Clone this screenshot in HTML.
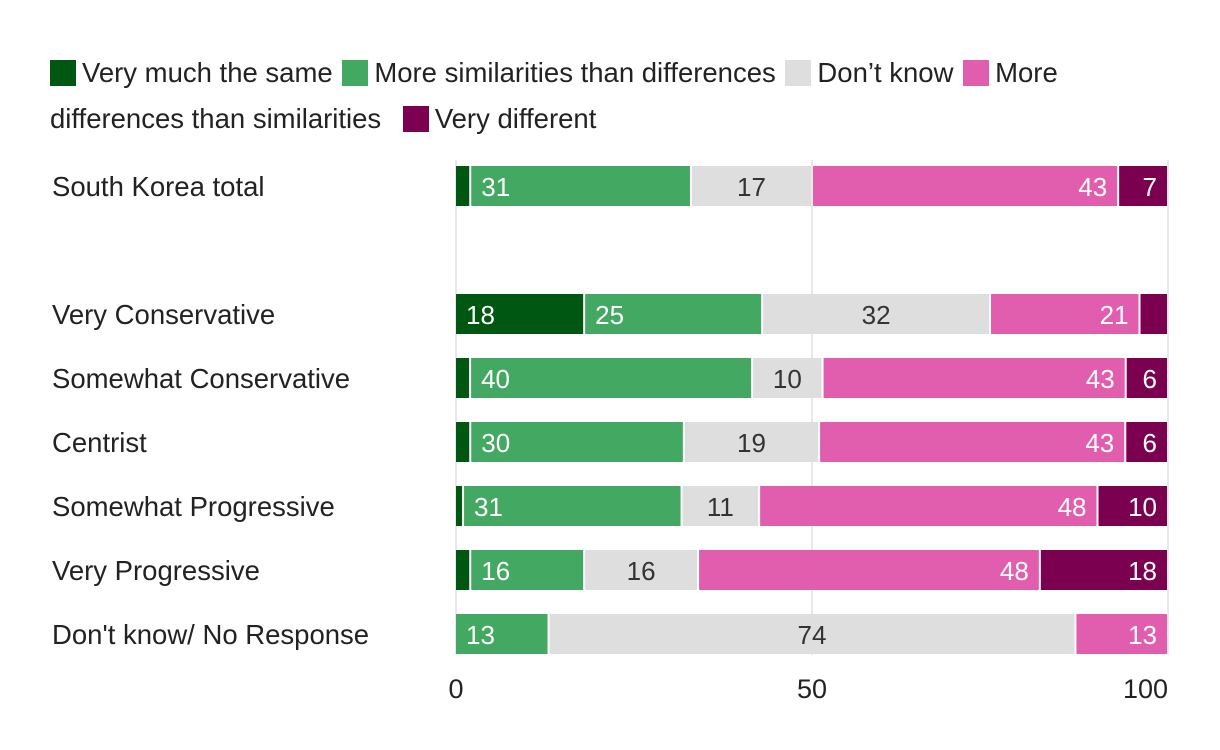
<!DOCTYPE html>
<html><head><meta charset="utf-8"><style>
body{margin:0;background:#fff;font-family:"Liberation Sans",sans-serif;}
#wrap{position:relative;width:1220px;height:750px;overflow:hidden}
.leg{position:absolute;left:50px;top:50px;width:1100px;font-size:27.5px;line-height:46px;color:#222}
.sw{display:inline-block;width:26px;height:26px;vertical-align:-4px;margin-right:6px}
</style></head><body>
<div id="wrap">
<div class="leg">
<span><span class="sw" style="background:#005712"></span>Very much the same</span>
<span><span class="sw" style="background:#43a862;margin-left:2px"></span>More similarities than differences</span>
<span><span class="sw" style="background:#dedede;margin-left:2px"></span>Don’t know</span>
<span><span class="sw" style="background:#e15eae;margin-left:2px"></span>More differences than similarities</span>
<span><span class="sw" style="background:#7b0050;margin-left:14px"></span>Very different</span>
</div>
<svg id="svg" width="1220" height="750" style="position:absolute;left:0;top:0"></svg>
</div>
<script>
const categories=["South Korea total","Very Conservative","Somewhat Conservative","Centrist","Somewhat Progressive","Very Progressive","Don't know/ No Response"];
const rowY=[186,314,378,442,506,570,634];
const veryMuchSame=[2,18,2,2,1,2,0];
const moreSimilar=[31,25,40,30,31,16,13];
const dontKnow=[17,32,10,19,11,16,74];
const moreDifferent=[43,21,43,43,48,48,13];
const veryDifferent=[7,4,6,6,10,18,0];
const ticks=[0,50,100];
const series=[veryMuchSame,moreSimilar,dontKnow,moreDifferent,veryDifferent];
const colors=["#005712","#43a862","#dedede","#e15eae","#7b0050"];
const textCol=["#fff","#fff","#333","#fff","#fff"];
const align=["start","start","middle","end","end"];
const x=v=>456+v*7.12;
const svg=document.getElementById('svg');
const NS="http://www.w3.org/2000/svg";
function mk(t,a){const e=document.createElementNS(NS,t);for(const k in a)e.setAttribute(k,a[k]);svg.appendChild(e);return e;}
ticks.forEach((t,k)=>{
 const l=mk('line',{x1:x(t),x2:x(t),y1:160,y2:655,stroke:'#e2e2e2','stroke-width':1.5});
 
 
 const tx=mk('text',{x:k==ticks.length-1?x(t):x(t),y:698,'text-anchor':k==ticks.length-1?'end':'middle','font-size':27,fill:'#222'});
 tx.textContent=t;
 
 
});
categories.forEach((c,i)=>{
 const cy=rowY[i];
 const lb=mk('text',{x:52,y:cy+10,'font-size':27.5,fill:'#222'});
 lb.textContent=c;
 
 
 const total=series.reduce((a,s)=>a+s[i],0);
 let acc=0;
 series.forEach((s,j)=>{
  const v=s[i];if(!v)return;
  const x0=x(acc*100/total)+(acc>0?1:0);acc+=v;const x1=x(acc*100/total)-1;
  const r=mk('rect',{x:x0,y:cy-20,width:Math.max(1,x1-x0),height:40,fill:colors[j]});
  
  
  if(v>=5){
   const tx=align[j]=='start'?x0+10:align[j]=='middle'?(x0+x1)/2:x1-10;
   const t=mk('text',{x:tx,y:cy+10,'text-anchor':align[j],'font-size':26,fill:textCol[j]});
   t.textContent=v;
   
   
  }
 });
});
</script>
</body></html>
